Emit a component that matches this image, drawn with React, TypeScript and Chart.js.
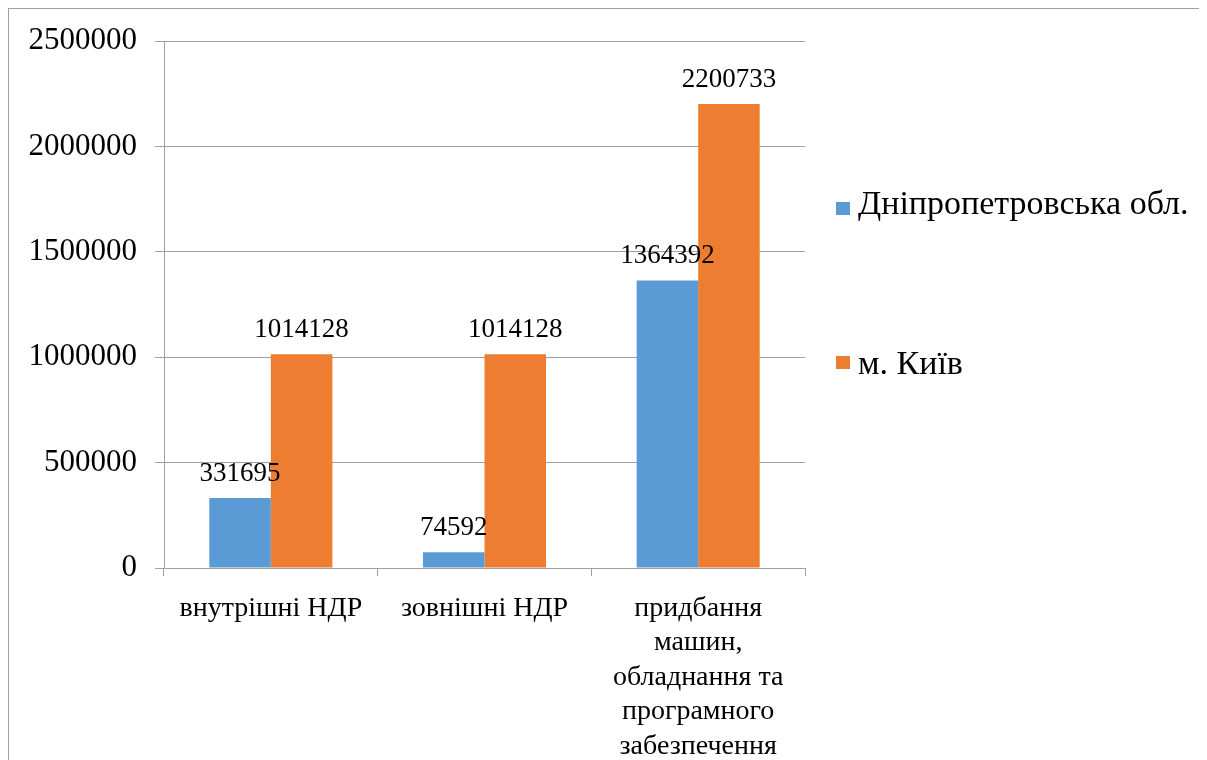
import React, { useEffect, useRef } from "react";
import { Chart, registerables } from "chart.js";

Chart.register(...registerables);

const categories: (string | string[])[] = [
  "внутрішні НДР",
  "зовнішні НДР",
  ["придбання", "машин,", "обладнання та", "програмного", "забезпечення"],
];
const seriesNames = ["Дніпропетровська обл.", "м. Київ"];
const dniproValues = [331695, 74592, 1364392];
const kyivValues = [1014128, 1014128, 2200733];
const colors = ["#5b9bd5", "#ed7d31"];

const FONT = "'Liberation Serif', 'Times New Roman', serif";
const GRID = "#a0a0a0";

const W = 1203;
const H = 768;

const valueLabels = {
  id: "valueLabels",
  afterDatasetsDraw(chart: any) {
    const ctx = chart.ctx;
    ctx.save();
    ctx.font = `27px ${FONT}`;
    ctx.fillStyle = "#000";
    ctx.textAlign = "center";
    ctx.textBaseline = "alphabetic";
    chart.data.datasets.forEach((ds: any, di: number) => {
      const meta = chart.getDatasetMeta(di);
      meta.data.forEach((bar: any, i: number) => {
        ctx.fillText(String(ds.data[i]), bar.x, bar.y - 17);
      });
    });
    ctx.restore();
  },
};

export default function App() {
  const ref = useRef<HTMLCanvasElement>(null);
  useEffect(() => {
    document.documentElement.style.overflow = "hidden";
    document.body.style.overflow = "hidden";
    const chart = new Chart(ref.current!, {
      type: "bar",
      data: {
        labels: categories,
        datasets: [
          { label: seriesNames[0], data: dniproValues, backgroundColor: colors[0] },
          { label: seriesNames[1], data: kyivValues, backgroundColor: colors[1] },
        ],
      },
      options: {
        responsive: false,
        animation: false,
        events: [],
        layout: { padding: { top: 32, right: W - 796, bottom: 0, left: 0 } },
        plugins: { legend: { display: false }, tooltip: { enabled: false } },
        datasets: { bar: { categoryPercentage: 0.576, barPercentage: 1 } },
        scales: {
          x: {
            offset: true,
            grid: {
              offset: true,
              drawOnChartArea: false,
              drawTicks: true,
              tickLength: 8,
              color: GRID,
            },
            border: { color: GRID },
            ticks: {
              color: "#000",
              font: { family: FONT, size: 28, lineHeight: 1.235 },
              padding: 15,
              maxRotation: 0,
              autoSkip: false,
            },
            afterFit: (s: any) => {
              s.height = H - 559;
              s.paddingLeft = 0;
              s.paddingRight = 0;
            },
          },
          y: {
            min: 0,
            max: 2500000,
            grid: { color: GRID, tickLength: 9, drawTicks: true },
            border: { color: GRID },
            ticks: {
              stepSize: 500000,
              color: "#000",
              font: { family: FONT, size: 31 },
              padding: 18,
              callback: (v: any) => String(v),
            },
            afterFit: (s: any) => {
              s.width = 155;
              s.paddingTop = 0;
              s.paddingBottom = 0;
            },
          },
        },
      },
      plugins: [valueLabels],
    });
    return () => chart.destroy();
  }, []);

  const legendText: React.CSSProperties = {
    position: "absolute",
    fontFamily: FONT,
    fontSize: 34,
    lineHeight: "34px",
    color: "#000",
    whiteSpace: "nowrap",
  };
  const sq = (c: string, top: number): React.CSSProperties => ({
    position: "absolute",
    left: 827,
    top,
    width: 14,
    height: 13,
    background: c,
  });

  return (
    <div
      style={{
        position: "relative",
        width: W + 2,
        height: H + 2,
        border: `1px solid ${GRID}`,
        boxSizing: "border-box",
        background: "#fff",
      }}
    >
      <canvas ref={ref} width={W} height={H} style={{ display: "block" }} />
      <div style={sq(colors[0], 193)} />
      <div style={{ ...legendText, left: 849, top: 177 }}>{seriesNames[0]}</div>
      <div style={sq(colors[1], 347)} />
      <div style={{ ...legendText, left: 849, top: 337 }}>{seriesNames[1]}</div>
    </div>
  );
}
